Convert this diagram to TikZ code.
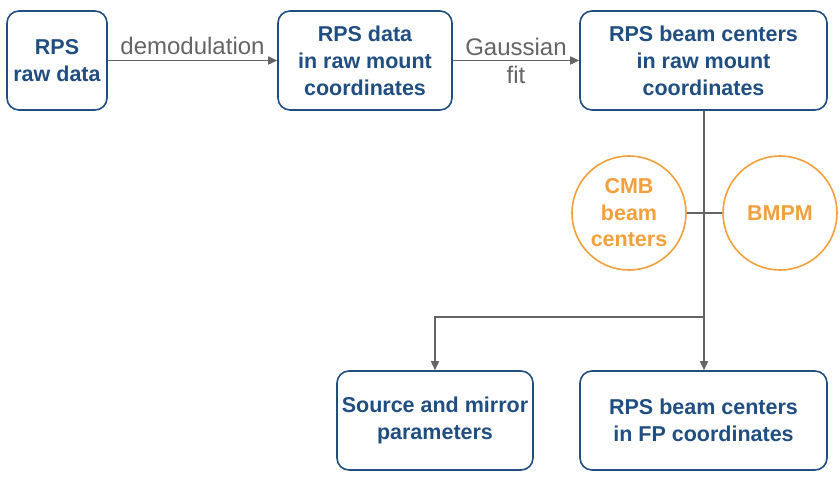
\documentclass[tikz,border=0pt]{standalone}
\usepackage{fontspec}
\setmainfont{Liberation Sans}
\usetikzlibrary{arrows.meta}
\definecolor{boxblue}{RGB}{33,78,128}
\definecolor{orng}{RGB}{240,160,60}
\definecolor{conn}{RGB}{100,100,100}
\begin{document}
\begin{tikzpicture}[x=1pt,y=-1pt,
  box/.style={draw=boxblue,line width=1.6pt,rounded corners=12pt,text=boxblue,
    font=\fontsize{21.5}{27}\selectfont\bfseries,align=center,inner sep=0pt},
  circ/.style={draw=orng,line width=1.6pt,circle,minimum size=114pt,text=orng,
    font=\fontsize{21.5}{26.5}\selectfont\bfseries,align=center,inner sep=0pt},
  conn/.style={draw=conn,line width=1.6pt},
  arr/.style={conn,-{Triangle[length=9pt,width=8pt]}},
  lbl/.style={text=conn,font=\fontsize{24}{27}\selectfont,align=center,inner sep=0pt}]
\useasboundingbox (0,0) rectangle (840,478);
\node[box,minimum width=100pt,minimum height=99pt] (A) at (57,60.5) {RPS\\raw data};
\node[box,minimum width=174pt,minimum height=99pt] (B) at (365,60.5) {RPS data\\in raw mount\\coordinates};
\node[box,minimum width=247pt,minimum height=99pt] (C) at (703.5,60.5) {RPS beam centers\\in raw mount\\coordinates};
\node[circ] (CMB) at (629,213) {CMB\\beam\\centers};
\node[circ] (BMPM) at (780,213) {BMPM};
\node[box,minimum width=196pt,minimum height=99pt] (D) at (435,420.5) {Source and mirror\\parameters};
\node[box,minimum width=247pt,minimum height=99pt] (E) at (703.5,420.5) {RPS beam centers\\in FP coordinates};
\coordinate (K) at (704,317);
\coordinate (L) at (435,317);
\draw[arr] (A) -- (B) node[lbl,midway,above=5pt] {demodulation};
\draw[arr] (B) -- (C) node[lbl,midway,above=4pt] {Gaussian} node[lbl,midway,below=5pt] {fit};
\draw[conn] (C.south -| K) -- (K);
\draw[conn] (CMB) -- (BMPM);
\draw[arr] (K) -- (E.north -| K);
\draw[arr] (K) -- (L) -- (D.north);
\end{tikzpicture}
\end{document}
